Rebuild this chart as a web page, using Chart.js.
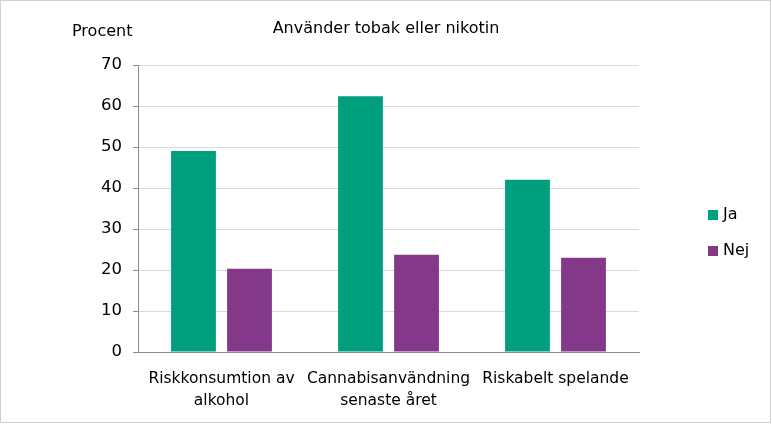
<!DOCTYPE html>
<html>
<head>
<meta charset="utf-8">
<script src="https://cdn.jsdelivr.net/npm/chart.js@4/dist/chart.umd.min.js"></script>
<style>
  html, body { margin: 0; padding: 0; background: #fff; }
</style>
</head>
<body>
<canvas id="myChart" width="772" height="424"></canvas>
<script>
const kategorier = [
    ['Riskkonsumtion av', 'alkohol'],
    ['Cannabisanvändning', 'senaste året'],
    'Riskabelt spelande'
];
const vardenJa = [49.0, 62.4, 42.0];
const vardenNej = [20.3, 23.7, 23.0];
const yTicks = [0, 10, 20, 30, 40, 50, 60, 70];

const titel = 'Använder tobak eller nikotin';
const enhet = 'Procent';
const FONT = 'DejaVu Sans';

// titel, enhet, legend och ram ritas här
const extraRitning = {
    id: 'extraRitning',
    afterDraw(chart) {
        const ctx = chart.ctx;
        ctx.save();
        ctx.fillStyle = '#000';
        ctx.font = `16px "${FONT}"`;
        ctx.textBaseline = 'middle';
        ctx.textAlign = 'center';
        ctx.fillText(titel, 386, 29);
        ctx.textAlign = 'left';
        ctx.fillText(enhet, 72, 32);

        chart.data.datasets.forEach((ds, i) => {
            const y = 215 + i * 36;
            ctx.fillStyle = ds.backgroundColor;
            ctx.fillRect(708, y - 5, 10, 10);
            ctx.fillStyle = '#000';
            ctx.font = `16px "${FONT}"`;
            ctx.fillText(ds.label, 723, y);
        });

        ctx.strokeStyle = '#d0d0d0';
        ctx.lineWidth = 1;
        ctx.strokeRect(0.5, 0.5, 770, 422);
        ctx.restore();
    }
};

const ctx = document.getElementById('myChart').getContext('2d');
new Chart(ctx, {
    type: 'bar',
    data: {
        labels: kategorier,
        datasets: [
            { label: 'Ja', data: vardenJa, backgroundColor: '#00a07f' },
            { label: 'Nej', data: vardenNej, backgroundColor: '#84388a' }
        ]
    },
    options: {
        responsive: false,
        animation: false,
        devicePixelRatio: 1,
        categoryPercentage: 0.671,
        barPercentage: 0.8,
        layout: { padding: { left: 0, right: 133, top: 65, bottom: 0 } },
        plugins: {
            legend: { display: false },
            title: { display: false },
            tooltip: { enabled: false }
        },
        scales: {
            x: {
                grid: { display: false, drawTicks: false },
                border: { display: true, color: '#8c8c8c', width: 1 },
                ticks: {
                    color: '#000',
                    font: { family: FONT, size: 15.5, lineHeight: 1.4 },
                    padding: 16,
                    maxRotation: 0,
                    autoSkip: false
                },
                afterFit(scale) { scale.height = 72; }
            },
            y: {
                min: 0,
                max: 70,
                afterBuildTicks(scale) {
                    scale.ticks = yTicks.map(v => ({ value: v }));
                },
                grid: {
                    color: '#d9d9d9',
                    tickColor: '#8c8c8c',
                    tickLength: 5
                },
                border: { display: true, color: '#8c8c8c', width: 1 },
                ticks: {
                    color: '#000',
                    font: { family: FONT, size: 16.5 },
                    padding: 11
                },
                afterFit(scale) { scale.width = 138; }
            }
        }
    },
    plugins: [extraRitning]
});
</script>
</body>
</html>
